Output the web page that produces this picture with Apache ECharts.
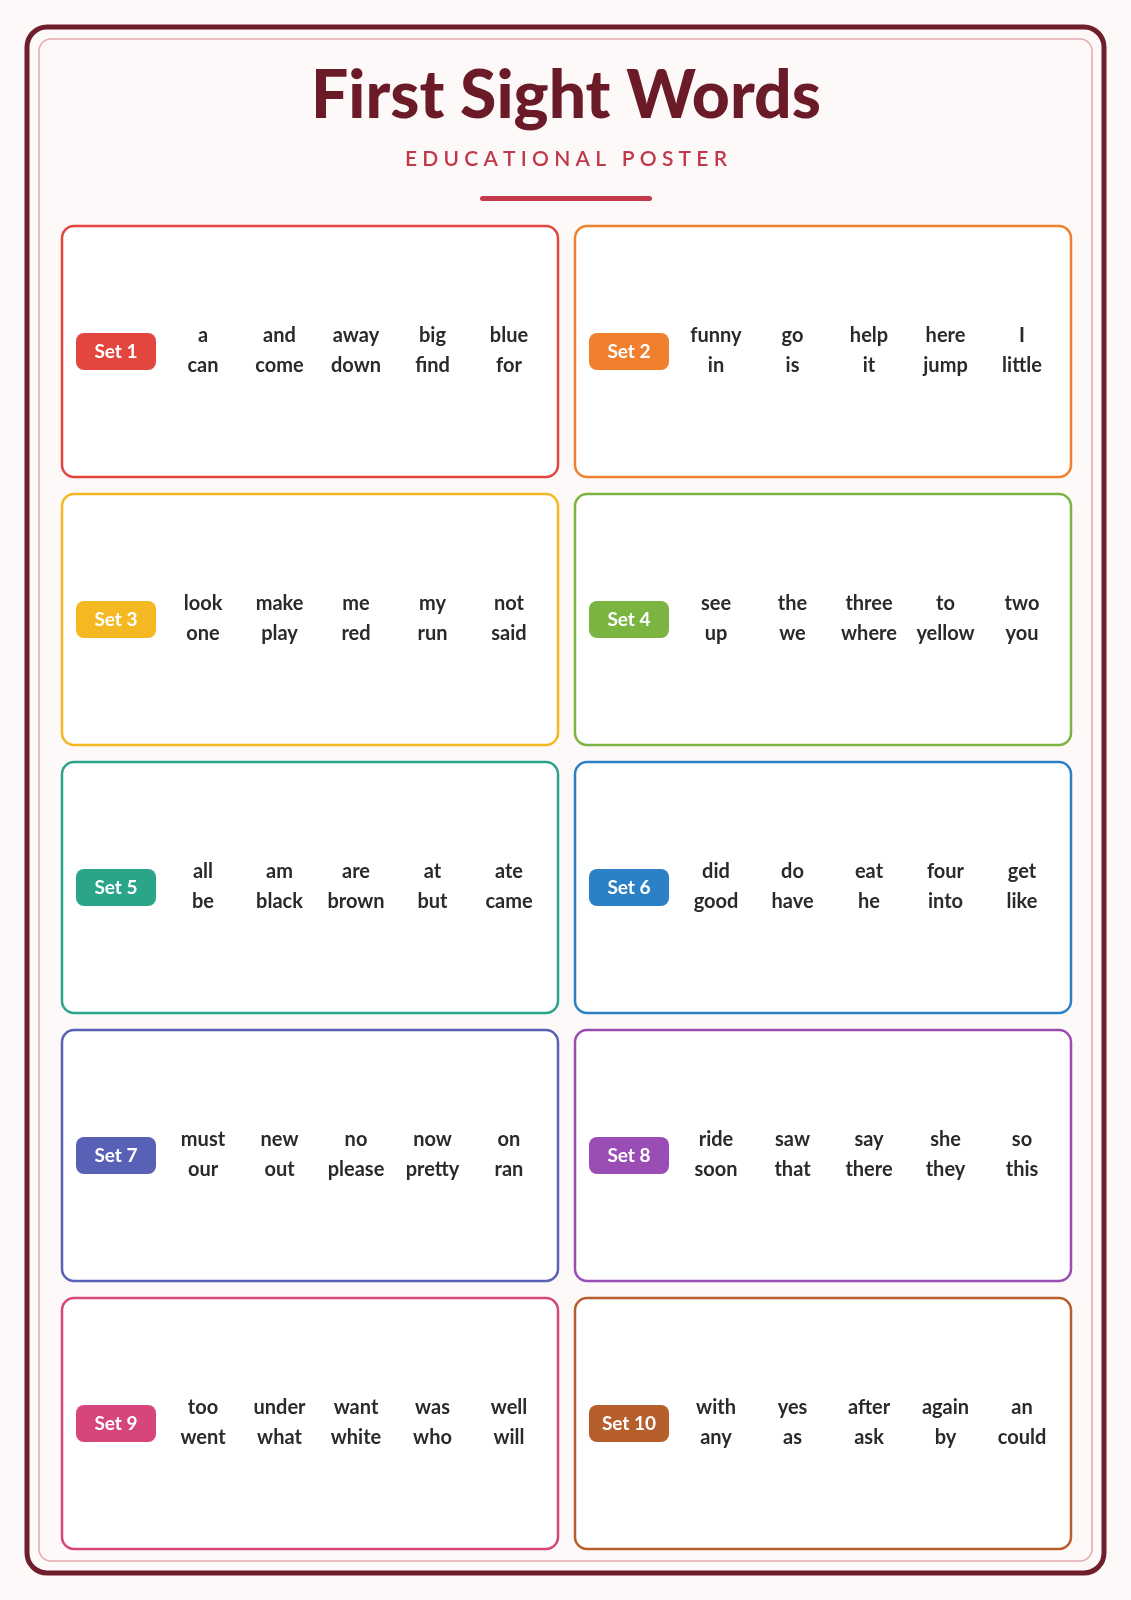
<!DOCTYPE html>
<html>
<head>
<meta charset="utf-8">
<script src="https://cdn.jsdelivr.net/npm/echarts@6/dist/echarts.min.js"></script>
<style>
  html, body { margin: 0; padding: 0; background: #fdf9f8; }
  #main { width: 1131px; height: 1600px; }
</style>
</head>
<body>
<div id="main"></div>
<script>
// 数据
var setNames = ['Set 1', 'Set 2', 'Set 3', 'Set 4', 'Set 5', 'Set 6', 'Set 7', 'Set 8', 'Set 9', 'Set 10'];
var setColors = ['#e2463f', '#f07f2e', '#f4b822', '#7bb440', '#2ba58a', '#2c80c6', '#5861b6', '#9a4db5', '#d6457c', '#b65f2c'];
var topWords = [
  ['a', 'and', 'away', 'big', 'blue'],
  ['funny', 'go', 'help', 'here', 'I'],
  ['look', 'make', 'me', 'my', 'not'],
  ['see', 'the', 'three', 'to', 'two'],
  ['all', 'am', 'are', 'at', 'ate'],
  ['did', 'do', 'eat', 'four', 'get'],
  ['must', 'new', 'no', 'now', 'on'],
  ['ride', 'saw', 'say', 'she', 'so'],
  ['too', 'under', 'want', 'was', 'well'],
  ['with', 'yes', 'after', 'again', 'an']
];
var bottomWords = [
  ['can', 'come', 'down', 'find', 'for'],
  ['in', 'is', 'it', 'jump', 'little'],
  ['one', 'play', 'red', 'run', 'said'],
  ['up', 'we', 'where', 'yellow', 'you'],
  ['be', 'black', 'brown', 'but', 'came'],
  ['good', 'have', 'he', 'into', 'like'],
  ['our', 'out', 'please', 'pretty', 'ran'],
  ['soon', 'that', 'there', 'they', 'this'],
  ['went', 'what', 'white', 'who', 'will'],
  ['any', 'as', 'ask', 'by', 'could']
];

var chart = echarts.init(document.getElementById('main'));
var font = 'Lato, "Noto Sans", sans-serif';
var els = [];

// 外框
els.push({ type: 'rect', shape: { x: 27, y: 27, width: 1077, height: 1546, r: 20 },
  style: { fill: '#fdf9f8', stroke: '#6e1f2b', lineWidth: 5 } });
els.push({ type: 'rect', shape: { x: 39, y: 39, width: 1053, height: 1522, r: 12 },
  style: { fill: 'none', stroke: '#e3a7ae', lineWidth: 1.5 } });

// 标题
els.push({ type: 'text', x: 566, y: 97, style: { text: 'First Sight Words', fill: '#6b1a28',
  font: '900 66px ' + font, align: 'center', verticalAlign: 'middle' } });
els.push({ type: 'text', x: 566, y: 159, style: { text: 'E D U C A T I O N A L   P O S T E R', fill: '#c0394b',
  font: '600 21px ' + font, align: 'center', verticalAlign: 'middle' } });
els.push({ type: 'rect', shape: { x: 480, y: 196, width: 172, height: 5, r: 2.5 }, style: { fill: '#c33a4c' } });

// 卡片
setNames.forEach(function (name, i) {
  var col = i % 2, row = Math.floor(i / 2);
  var x0 = col === 0 ? 62 : 575;
  var y0 = 226 + row * 268;
  var c = setColors[i];
  var cy = y0 + 125;
  els.push({ type: 'rect', shape: { x: x0, y: y0, width: 496, height: 251, r: 12 },
    style: { fill: '#ffffff', stroke: c, lineWidth: 2.5 } });
  els.push({ type: 'rect', shape: { x: x0 + 14, y: cy - 18, width: 80, height: 37, r: 8 }, style: { fill: c } });
  els.push({ type: 'text', x: x0 + 54, y: cy + 1, style: { text: name, fill: '#ffffff',
    font: 'bold 19px ' + font, align: 'center', verticalAlign: 'middle' } });
  for (var k = 0; k < 5; k++) {
    var wx = x0 + 141 + k * 76.5;
    els.push({ type: 'text', x: wx, y: cy - 15, style: { text: topWords[i][k], fill: '#2a2a2a',
      font: 'bold 20px ' + font, align: 'center', verticalAlign: 'middle' } });
    els.push({ type: 'text', x: wx, y: cy + 15, style: { text: bottomWords[i][k], fill: '#2a2a2a',
      font: 'bold 20px ' + font, align: 'center', verticalAlign: 'middle' } });
  }
});

chart.setOption({ backgroundColor: '#fdf9f8', graphic: { elements: els } });
</script>
</body>
</html>
